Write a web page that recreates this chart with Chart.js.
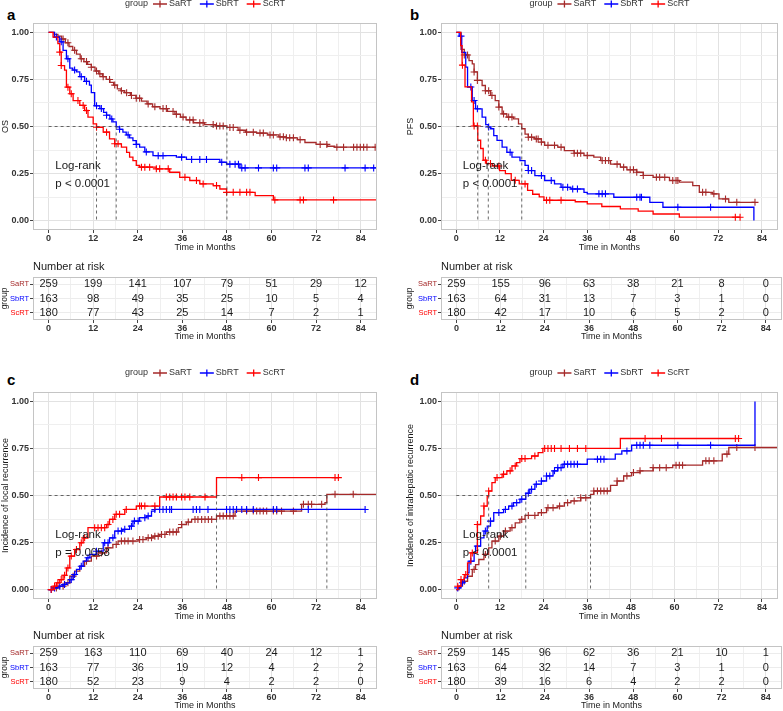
<!DOCTYPE html>
<html>
<head>
<meta charset="utf-8">
<title>Survival and recurrence by group</title>
<script src="https://cdn.jsdelivr.net/npm/chart.js@4.4.1/dist/chart.umd.min.js"></script>
<style>
  html, body { margin: 0; padding: 0; background: #fff; }
  body { position: relative; width: 783px; height: 711px; overflow: hidden;
         font-family: 'Liberation Sans', Arial, sans-serif; }
  canvas { position: absolute; }
  .tag { position: absolute; font-size: 15px; line-height: 15px; font-weight: bold; color: #000; }
</style>
</head>
<body>
<div class="tag" style="left:7px;top:7px">a</div>
<div class="tag" style="left:410px;top:7px">b</div>
<div class="tag" style="left:7px;top:372px">c</div>
<div class="tag" style="left:410px;top:372px">d</div>

<canvas id="plot-a" width="390" height="255" style="left:0;top:0"></canvas>
<canvas id="risk-a" width="390" height="87" style="left:0;top:255px"></canvas>
<canvas id="plot-b" width="378" height="255" style="left:405px;top:0"></canvas>
<canvas id="risk-b" width="378" height="87" style="left:405px;top:255px"></canvas>
<canvas id="plot-c" width="390" height="255" style="left:0;top:369px"></canvas>
<canvas id="risk-c" width="390" height="87" style="left:0;top:624px"></canvas>
<canvas id="plot-d" width="378" height="255" style="left:405px;top:369px"></canvas>
<canvas id="risk-d" width="378" height="87" style="left:405px;top:624px"></canvas>

<script>
// ---- data ----
const groups = ['SaRT', 'SbRT', 'ScRT'];
const xMajor = [0, 12, 24, 36, 48, 60, 72, 84];
const yMajor = [0, 0.25, 0.5, 0.75, 1];
const riskTimes = [0, 12, 24, 36, 48, 60, 72, 84];

// (a) overall survival: [month, survival]
const osSa = [[0,1],[1.5,0.99],[2.5,0.98],[3.5,0.965],[4.5,0.945],[5.5,0.925],[6.5,0.905],[7.5,0.885],[8.5,0.86],[9.5,0.845],[10.5,0.83],[11.5,0.815],[12.5,0.795],[13.5,0.78],[14.5,0.765],[15.5,0.75],[16.5,0.735],[17.5,0.72],[18.5,0.70],[19.5,0.69],[20.5,0.68],[22,0.665],[23.5,0.65],[25,0.635],[26.5,0.62],[28,0.605],[30,0.595],[32,0.58],[34,0.565],[35.5,0.55],[37,0.535],[39,0.52],[42,0.51],[45,0.503],[48,0.495],[51,0.48],[53,0.47],[56,0.465],[59,0.455],[62,0.445],[64,0.44],[67,0.43],[69,0.415],[72,0.405],[75,0.395],[77,0.39],[88.2,0.39]];
const osSb = [[0,1],[1.6,0.975],[3,0.95],[3.9,0.905],[4.8,0.86],[5.7,0.81],[6.5,0.80],[7.5,0.79],[8.4,0.765],[9.7,0.74],[11,0.72],[11.5,0.68],[12.4,0.61],[13.8,0.595],[14.8,0.575],[15.6,0.56],[16.5,0.54],[17.3,0.525],[18.2,0.498],[19.1,0.485],[20,0.47],[20.9,0.455],[21.8,0.44],[22.7,0.425],[23.6,0.405],[24.5,0.39],[25.9,0.365],[28.1,0.345],[34.4,0.337],[37.1,0.325],[46.1,0.31],[47.9,0.30],[51.5,0.28],[88.2,0.28]];
const osSc = [[0,1],[1.2,0.975],[2.5,0.94],[3,0.895],[3.4,0.824],[4.3,0.80],[4.8,0.709],[5.7,0.674],[6.6,0.638],[8.4,0.612],[9.7,0.585],[10.6,0.55],[12,0.514],[12.9,0.496],[14.7,0.47],[16.4,0.434],[17.8,0.408],[19.6,0.39],[21,0.363],[21.8,0.337],[22.7,0.319],[23.6,0.293],[24.5,0.284],[29,0.275],[32.6,0.257],[35.3,0.23],[38,0.213],[40.7,0.195],[44.3,0.186],[46.1,0.168],[47.9,0.15],[55.6,0.133],[60.5,0.11],[88.2,0.11]];
const osSaCens = [3.9,5.2,7,8.8,10.2,11.5,12.9,13.8,14.7,16.4,17.8,19.6,21,22.3,23.6,24.5,26.8,28.6,30.8,31.7,33.5,34.4,36.2,38,38.9,40.7,41.6,44.3,45.2,46.1,47,48.8,49.7,51.5,53.3,55.1,56.9,57.8,59.6,60.5,62.3,63.2,64,64.9,65.9,67.7,73.1,74.9,77.6,79.4,82.1,83,83.9,84.8,85.7,87.9];
const osSbCens = [2.1,3.4,5.2,7,8.8,10.2,12.9,14.2,15.6,17,19.1,21.4,23.6,26.3,29.5,30.8,35.8,38.5,40.7,42.5,46.6,48.8,50.2,51.1,52,52.9,56.5,60.5,61.4,69,69.9,79.8,85.2,87.5];
const osScCens = [3,3.4,5.2,6.1,7.9,9.3,10.2,12.9,15.6,17.8,18.7,25,25.9,27.2,29,29.9,32.2,36.7,39.8,41.6,45.2,47.9,49.7,51.5,53.3,54.2,60.9,67.7,68.6,76.7];
const osRisk = [[259,199,141,107,79,51,29,12],[163,98,49,35,25,10,5,4],[180,77,43,25,14,7,2,1]];

// (b) progression-free survival
const pfsSa = [[0,1],[1.3,0.91],[2.2,0.88],[3.5,0.85],[4.4,0.833],[4.9,0.79],[5.8,0.745],[7.1,0.718],[8,0.69],[9.4,0.665],[10.7,0.638],[11.7,0.603],[12.6,0.567],[13.9,0.55],[15.7,0.54],[17.1,0.514],[18,0.488],[18.9,0.46],[19.8,0.443],[21.6,0.434],[23.4,0.417],[24.3,0.40],[27.9,0.39],[29.7,0.372],[32.4,0.358],[35.1,0.346],[37.8,0.337],[39.7,0.319],[42.4,0.30],[45.1,0.284],[46.9,0.27],[49.6,0.257],[51.4,0.24],[54.1,0.23],[58.6,0.213],[61.3,0.204],[65,0.186],[66.8,0.15],[70.4,0.142],[72.2,0.115],[74.9,0.097],[82.1,0.097]];
const pfsSb = [[0,1],[0.8,0.98],[1.5,0.894],[2.6,0.815],[3.1,0.71],[4.4,0.638],[5.3,0.594],[7.1,0.55],[8.1,0.51],[8.8,0.497],[9.4,0.488],[10.3,0.452],[11.2,0.426],[12.6,0.39],[13.9,0.363],[15.3,0.337],[17.5,0.319],[18.9,0.293],[19.8,0.266],[21.6,0.239],[24.3,0.213],[27,0.195],[28.8,0.177],[31.5,0.168],[35.1,0.15],[36,0.142],[43.3,0.124],[53.2,0.097],[56.8,0.071],[81.8,0]];
const pfsSc = [[0,1],[1.2,0.93],[1.6,0.826],[2.4,0.711],[4.2,0.631],[4.7,0.503],[5.9,0.427],[6.7,0.383],[7.4,0.321],[8.3,0.303],[10,0.29],[11.9,0.265],[13.5,0.25],[15.1,0.214],[17.3,0.195],[19.6,0.161],[21,0.14],[22.8,0.126],[24.1,0.108],[32.7,0.10],[36,0.089],[40,0.075],[45.1,0.062],[50,0.05],[54.1,0.035],[61.3,0.018],[78,0.018]];
const pfsSaCens = [2.2,3.1,4.9,5.8,8,8.9,9.8,11.7,13,14.4,15.3,19.8,20.7,22,22.5,23.4,25.2,27,28.8,32.4,33.3,34.2,36,40.1,41,41.9,44.2,46,47.8,48.7,49.6,51.4,55,55.9,57.3,59.5,60.4,60.9,67.7,68.6,70.8,74,77.1,82.1];
const pfsSbCens = [1.3,4,4.9,5.8,8.9,14.8,19.8,20.7,23.4,26.1,29.3,30.6,32,33.3,39.2,40.1,41,49.6,50.5,50.9,60.9,69.9];
const pfsScCens = [1.7,4.9,5.8,8,9.4,11.7,16.2,18.9,24.8,25.7,28.8,76.7,78];
const pfsRisk = [[259,155,96,63,38,21,8,0],[163,64,31,13,7,3,1,0],[180,42,17,10,6,5,2,0]];

// (c) cumulative incidence of local recurrence
const lrSa = [[0,0],[1.6,0.009],[3,0.018],[4.3,0.036],[5.7,0.071],[7,0.098],[8.4,0.124],[9.7,0.151],[11.5,0.178],[13.3,0.195],[15.6,0.222],[17.3,0.24],[18.7,0.258],[24.1,0.266],[26.3,0.275],[28.1,0.284],[29.9,0.293],[31.7,0.306],[34.9,0.329],[35.8,0.346],[37.1,0.359],[38.5,0.373],[45.2,0.391],[50.2,0.417],[68.1,0.453],[74.4,0.462],[74.9,0.506],[88.2,0.506]];
const lrSb = [[0,0],[1.2,0.009],[2.5,0.018],[3.9,0.027],[4.8,0.036],[5.7,0.053],[6.6,0.08],[7.5,0.107],[8.4,0.124],[9.3,0.151],[10.2,0.169],[11.1,0.187],[12.9,0.204],[14.7,0.249],[16.4,0.275],[17.8,0.311],[20,0.32],[21.8,0.337],[22.7,0.364],[24.5,0.382],[26.3,0.391],[27.7,0.417],[28.6,0.426],[85.2,0.426]];
const lrSc = [[0,0],[1.2,0.018],[2.1,0.036],[3,0.053],[3.9,0.076],[4.8,0.115],[5.7,0.178],[7,0.213],[8.4,0.249],[9.3,0.275],[10.6,0.329],[15.6,0.346],[16.4,0.373],[17.8,0.40],[20.5,0.426],[23.6,0.444],[29.9,0.492],[45.2,0.595],[78,0.595]];
const lrSaCens = [2.1,3.9,5.2,6.6,10.2,12.9,14.2,16,18.2,19.6,20.5,21.4,22.7,24.5,25.4,26.8,27.7,28.6,29.5,30.4,31.3,32.6,33.5,34.4,35.8,37.6,39.4,40.2,41.2,42.1,43,43.9,46.1,47,47.9,48.8,49.7,53.3,55.1,56,56.9,57.8,58.7,60.5,61.4,62.7,65.9,68.6,69.9,70.8,73.5,77.1,82];
const lrSbCens = [0.7,1.6,3,4.3,6.1,7,8.8,10.6,12.9,15.1,16,17.3,18.7,19.6,20.5,22.3,23.1,24.1,25.9,26.8,28.6,29.9,30.8,31.7,32.6,33.1,38.9,39.8,40.7,42.9,47.9,48.8,49.7,50.6,52,53.3,55.1,60.5,61.4,69.9,85.2];
const lrScCens = [0.7,1.6,2.5,3.4,4.3,5.2,6.1,7.5,8.8,9.7,12.4,13.3,14.2,15.1,16,17.3,18.2,19.1,20.9,24.5,25,25.9,28.6,31.7,32.6,33.5,34.4,35.8,36.7,38,42.1,52,56.5,77.1,78];
const lrRisk = [[259,163,110,69,40,24,12,1],[163,77,36,19,12,4,2,2],[180,52,23,9,4,2,2,0]];

// (d) cumulative incidence of intrahepatic recurrence
const ihSa = [[0,0],[0.8,0.018],[1.7,0.044],[3.1,0.071],[4.4,0.107],[5.3,0.133],[6.2,0.16],[7.6,0.187],[8.9,0.222],[9.8,0.258],[11.7,0.284],[13,0.311],[14.8,0.329],[16.2,0.355],[17.5,0.373],[18.9,0.394],[22.5,0.409],[24.8,0.435],[27.9,0.444],[29.7,0.462],[31.5,0.471],[34.2,0.488],[36.9,0.506],[37.8,0.524],[42.4,0.554],[44.2,0.577],[46,0.604],[48.2,0.622],[50.5,0.631],[54.1,0.648],[59.5,0.661],[67.7,0.684],[73.1,0.72],[74.9,0.755],[88.3,0.755]];
const ihSb = [[0,0],[0.4,0.009],[1.3,0.036],[2.2,0.062],[3.1,0.089],[3.5,0.151],[4.9,0.195],[5.3,0.231],[6.7,0.275],[7.6,0.311],[8.5,0.337],[9.4,0.364],[10.3,0.409],[13,0.426],[14.4,0.444],[15.7,0.462],[17.5,0.48],[19.1,0.512],[20.2,0.533],[21.6,0.56],[23.4,0.577],[24.8,0.604],[26.6,0.631],[27.9,0.648],[29.3,0.666],[36,0.693],[43.7,0.72],[45.5,0.737],[48.2,0.767],[82.1,1]];
const ihSc = [[0,0],[0.4,0.018],[1.3,0.053],[2.2,0.08],[3.1,0.142],[4,0.195],[5.8,0.346],[6.7,0.391],[7.6,0.444],[8.5,0.497],[8.9,0.524],[9.8,0.568],[10.7,0.595],[12.6,0.613],[13.9,0.631],[15.3,0.657],[16.6,0.675],[17.5,0.696],[20.7,0.71],[22.5,0.728],[23.8,0.75],[45.1,0.803],[77.6,0.803]];
const ihSaCens = [2.2,4.9,8,10.7,12.1,13.5,15.3,18,19.8,21.6,23.4,25.2,26.6,28.4,30.6,32.4,34.2,35.6,37.8,38.8,39.7,40.6,41.5,44.2,46.9,48.7,50.5,54.1,55.9,57.7,60.4,61.3,62.2,68.6,69.5,70.8,74.4,77.1,82.1];
const ihSbCens = [0.4,1.7,4,5.8,8,9.4,11.7,13.5,15.3,16.6,18,19.8,20.7,22,23.4,24.8,25.7,27,27.9,28.8,29.7,30.6,31.5,32.4,33.3,38.8,39.7,40.6,46.9,49.6,50.5,51.4,53.2,60.9,69.9];
const ihScCens = [0.4,1.3,2.6,4.4,5.8,7.6,8.9,11.2,13,14.8,16.2,18,18.9,21.6,24.3,25.2,26.1,27,28.8,31.1,33.3,35.6,51.9,56.4,76.7,77.6];
const ihRisk = [[259,145,96,62,36,21,10,1],[163,64,32,14,7,3,1,0],[180,39,16,6,4,2,2,0]];

// ---- styling ----
const fam = "'Liberation Sans', Arial, sans-serif";
Chart.defaults.font.family = fam;
Chart.defaults.color = '#333';
Chart.defaults.animation = false;

const groupColors = ['#A52A2A', '#0000FF', '#FF0000'];
const ink = '#1a1a1a';
const frameColor = '#c4c4c4';
const majorGrid = '#e2e2e2';
const minorGrid = '#efefef';
const xRange = [-4.2, 88.4];
const yRange = [-0.05, 1.05];

function withMinor(major) {
    const out = [];
    major.forEach(function(v, i) {
        out.push(v);
        if (i < major.length - 1) out.push((v + major[i + 1]) / 2);
    });
    return out;
}
const xTickVals = withMinor(xMajor);
const yTickVals = withMinor(yMajor);

function stepAt(curve, t) {
    let v = curve[0][1];
    for (const pt of curve) {
        if (pt[0] <= t) v = pt[1]; else break;
    }
    return v;
}

function medianOf(curve, incidence) {
    for (const pt of curve) {
        if (incidence ? pt[1] >= 0.5 : pt[1] <= 0.5) return pt[0];
    }
    return null;
}

function xAxis(axisHeight, titlePad) {
    return {
        type: 'linear',
        min: xRange[0],
        max: xRange[1],
        afterBuildTicks: function(s) { s.ticks = xTickVals.map(function(v) { return { value: v }; }); },
        afterFit: function(s) { s.height = axisHeight; },
        ticks: {
            autoSkip: false, maxRotation: 0, padding: 0,
            color: '#333', font: { size: 9, weight: 'bold' },
            callback: function(v) { return xMajor.includes(v) ? String(v) : ''; }
        },
        grid: {
            color: function(c) { return c.tick && xMajor.includes(c.tick.value) ? majorGrid : minorGrid; },
            tickColor: function(c) { return c.tick && xMajor.includes(c.tick.value) ? '#444' : 'rgba(0,0,0,0)'; },
            tickLength: 3
        },
        border: { display: false },
        title: { display: true, text: 'Time in Months', color: ink, font: { size: 9 }, padding: { top: 0, bottom: titlePad } }
    };
}

function drawFrame(ctx, a) {
    ctx.strokeStyle = frameColor;
    ctx.lineWidth = 1;
    ctx.strokeRect(Math.round(a.left) + 0.5, Math.round(a.top) + 0.5,
                   Math.round(a.width) - 1, Math.round(a.height) - 1);
}

function drawLegend(ctx, a) {
    ctx.font = '9px ' + fam;
    ctx.textBaseline = 'middle';
    ctx.textAlign = 'left';
    const keyW = 14;
    const y = a.top - 19;
    const parts = [ctx.measureText('group').width + 5];
    groups.forEach(function(g) { parts.push(keyW + 2 + ctx.measureText(g).width + 8); });
    const total = parts.reduce(function(s, v) { return s + v; }, 0) - 8;
    let x = (a.left + a.right) / 2 - total / 2;
    ctx.fillStyle = '#333';
    ctx.fillText('group', x, y);
    x += parts[0];
    groups.forEach(function(g, i) {
        const cx = x + keyW / 2;
        ctx.strokeStyle = groupColors[i];
        ctx.lineWidth = 1.3;
        ctx.beginPath();
        ctx.moveTo(x, y); ctx.lineTo(x + keyW, y);
        ctx.moveTo(cx, y - 3.5); ctx.lineTo(cx, y + 3.5);
        ctx.stroke();
        ctx.fillStyle = '#333';
        ctx.fillText(g, x + keyW + 2, y);
        x += parts[i + 1];
    });
}

function plotDecor(pText) {
    return {
        id: 'plotDecor',
        afterDatasetsDraw: function(chart) {
            const ctx = chart.ctx, a = chart.chartArea;
            const xs = chart.scales.x, ys = chart.scales.y;
            ctx.save();
            drawFrame(ctx, a);
            ctx.fillStyle = ink;
            ctx.font = '11.5px ' + fam;
            ctx.textAlign = 'left';
            ctx.textBaseline = 'middle';
            ctx.fillText('Log-rank', xs.getPixelForValue(1.8), ys.getPixelForValue(0.293));
            ctx.fillText(pText, xs.getPixelForValue(1.8), ys.getPixelForValue(0.195));
            drawLegend(ctx, a);
            ctx.restore();
        }
    };
}

function riskDecor(rows) {
    return {
        id: 'riskDecor',
        afterDatasetsDraw: function(chart) {
            const ctx = chart.ctx, a = chart.chartArea;
            const xs = chart.scales.x, ys = chart.scales.y;
            ctx.save();
            drawFrame(ctx, a);
            ctx.fillStyle = ink;
            ctx.font = '11px ' + fam;
            ctx.textAlign = 'center';
            ctx.textBaseline = 'middle';
            rows.forEach(function(row, i) {
                row.forEach(function(n, j) {
                    ctx.fillText(String(n), xs.getPixelForValue(riskTimes[j]), ys.getPixelForValue(i));
                });
            });
            ctx.textAlign = 'left';
            ctx.fillText('Number at risk', a.left, a.top - 10);
            ctx.restore();
        }
    };
}

function guide(points) {
    return {
        data: points,
        borderColor: '#444',
        borderWidth: 0.8,
        borderDash: [3, 3],
        pointRadius: 0,
        order: 0
    };
}

function buildPlot(id, p, col) {
    const datasets = [];
    const medians = p.curves.map(function(c) { return medianOf(c, p.incidence); })
                            .filter(function(m) { return m !== null; });
    if (medians.length) {
        const mMax = Math.max.apply(null, medians);
        datasets.push(guide([{ x: 0, y: 0.5 }, { x: mMax, y: 0.5 }]));
        medians.forEach(function(m) { datasets.push(guide([{ x: m, y: 0.5 }, { x: m, y: 0 }])); });
    }
    p.curves.forEach(function(c, i) {
        datasets.push({
            label: groups[i],
            data: c.map(function(pt) { return { x: pt[0], y: pt[1] }; }),
            borderColor: groupColors[i],
            borderWidth: 1.3,
            stepped: true,
            pointRadius: 0,
            fill: false,
            order: 3 - i
        });
        datasets.push({
            label: groups[i] + ' censored',
            data: p.censors[i].map(function(t) { return { x: t, y: stepAt(c, t) }; }),
            showLine: false,
            pointStyle: 'cross',
            pointRadius: 3.5,
            pointBorderWidth: 1.1,
            borderColor: groupColors[i],
            order: 3 - i
        });
    });

    new Chart(document.getElementById(id), {
        type: 'line',
        data: { datasets: datasets },
        options: {
            responsive: false,
            animation: false,
            events: [],
            layout: { padding: { top: 23, right: col.rightPad, left: 0, bottom: 0 } },
            plugins: { legend: { display: false }, tooltip: { enabled: false } },
            scales: {
                x: xAxis(25, 2),
                y: {
                    type: 'linear',
                    min: yRange[0],
                    max: yRange[1],
                    afterBuildTicks: function(s) { s.ticks = yTickVals.map(function(v) { return { value: v }; }); },
                    afterFit: function(s) { s.width = col.yAxisW; },
                    ticks: {
                        autoSkip: false, padding: 1,
                        color: '#333', font: { size: 9, weight: 'bold' },
                        callback: function(v) { return yMajor.includes(v) ? v.toFixed(2) : ''; }
                    },
                    grid: {
                        color: function(c) { return c.tick && yMajor.includes(c.tick.value) ? majorGrid : minorGrid; },
                        tickColor: function(c) { return c.tick && yMajor.includes(c.tick.value) ? '#444' : 'rgba(0,0,0,0)'; },
                        tickLength: 3
                    },
                    border: { display: false },
                    title: { display: true, text: p.yTitle, color: ink, font: { size: 9 }, padding: { top: 0, bottom: 0 } }
                }
            }
        },
        plugins: [plotDecor(p.pText)]
    });
}

function buildRisk(id, rows, col) {
    new Chart(document.getElementById(id), {
        type: 'line',
        data: {
            labels: groups,
            datasets: [{
                data: riskTimes.map(function(t) { return { x: t, y: groups[0] }; }),
                showLine: false,
                pointRadius: 0
            }]
        },
        options: {
            responsive: false,
            animation: false,
            events: [],
            layout: { padding: { top: 22, right: col.rightPad, left: 0, bottom: 0 } },
            plugins: { legend: { display: false }, tooltip: { enabled: false } },
            scales: {
                x: xAxis(22, 0),
                y: {
                    type: 'category',
                    labels: groups,
                    offset: true,
                    afterFit: function(s) { s.width = col.yAxisW; },
                    ticks: {
                        padding: 1,
                        font: { size: 7.5 },
                        color: function(c) { return groupColors[c.index]; }
                    },
                    grid: { color: '#ececec', tickColor: '#444', tickLength: 3 },
                    border: { display: false },
                    title: { display: true, text: 'group', color: ink, font: { size: 8.5 }, padding: { top: 0, bottom: 0 } }
                }
            }
        },
        plugins: [riskDecor(rows)]
    });
}

const leftCol = { yAxisW: 33, rightPad: 13 };
const rightCol = { yAxisW: 36, rightPad: 1 };

const panels = [
    { plot: 'plot-a', risk: 'risk-a', col: leftCol, yTitle: 'OS', incidence: false, pText: 'p < 0.0001',
      curves: [osSa, osSb, osSc], censors: [osSaCens, osSbCens, osScCens], rows: osRisk },
    { plot: 'plot-b', risk: 'risk-b', col: rightCol, yTitle: 'PFS', incidence: false, pText: 'p < 0.0001',
      curves: [pfsSa, pfsSb, pfsSc], censors: [pfsSaCens, pfsSbCens, pfsScCens], rows: pfsRisk },
    { plot: 'plot-c', risk: 'risk-c', col: leftCol, yTitle: 'Incidence of local recurrence', incidence: true, pText: 'p = 0.0058',
      curves: [lrSa, lrSb, lrSc], censors: [lrSaCens, lrSbCens, lrScCens], rows: lrRisk },
    { plot: 'plot-d', risk: 'risk-d', col: rightCol, yTitle: 'Incidence of intrahepatic recurrence', incidence: true, pText: 'p < 0.0001',
      curves: [ihSa, ihSb, ihSc], censors: [ihSaCens, ihSbCens, ihScCens], rows: ihRisk }
];

panels.forEach(function(p) {
    buildPlot(p.plot, p, p.col);
    buildRisk(p.risk, p.rows, p.col);
});
</script>
</body>
</html>
